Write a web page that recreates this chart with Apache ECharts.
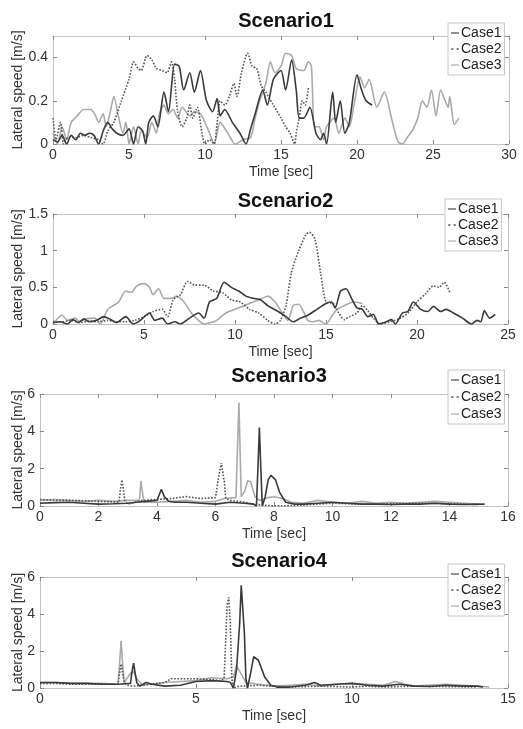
<!DOCTYPE html>
<html>
<head>
<meta charset="utf-8">
<script src="https://cdn.jsdelivr.net/npm/echarts@6/dist/echarts.min.js"></script>
<style>
html,body{margin:0;padding:0;background:#fff;}
#chart{width:523px;height:729px;}
</style>
</head>
<body>
<div id="chart"></div>
<script>
// ---------- data ----------
const titles = ['Scenario1', 'Scenario2', 'Scenario3', 'Scenario4'];
const caseNames = ['Case1', 'Case2', 'Case3'];
const xMax = [30, 25, 16, 15];
const xStep = [5, 5, 2, 5];
const yMax = [0.5, 1.5, 6, 6];
const yStep = [0.2, 0.5, 2, 2];

const s1c1 = [[0,0.02],[0.3,0.01],[0.6,0.04],[0.9,0.0],[1.2,0.04],[1.5,0.02],[1.8,0.05],[2.1,0.04],[2.4,0.05],[2.7,0.04],[3.0,0.0],[3.3,0.06],[3.6,0.1],[3.9,0.07],[4.2,0.05],[4.6,0.04],[5.0,0.07],[5.3,0.0],[5.6,0.08],[5.9,0.06],[6.1,0.0],[6.3,0.1],[6.6,0.13],[6.9,0.08],[7.3,0.24],[7.6,0.15],[8.0,0.37],[8.3,0.36],[8.6,0.25],[9.0,0.33],[9.3,0.24],[9.7,0.34],[10.1,0.2],[10.5,0.15],[10.8,0.21],[11.0,0.13],[11.3,0.16],[11.8,0.1],[12.3,0.05],[12.7,0.0],[13.0,0.07],[13.3,0.14],[13.8,0.25],[14.1,0.18],[14.5,0.3],[15.0,0.34],[15.3,0.25],[15.7,0.39],[16.0,0.25],[16.2,0.12],[16.5,0.12],[16.9,0.17],[17.3,0.05],[17.6,0.02],[17.8,0.05],[18.0,0.0],[18.4,0.24],[18.6,0.1],[18.9,0.2],[19.2,0.05],[19.5,0.1],[20.0,0.32],[20.3,0.25],[20.6,0.2],[21.0,0.18]];
const s1c2 = [[0,0.12],[0.2,0.02],[0.5,0.1],[0.7,0.0],[1.0,0.03],[1.5,0.03],[2.0,0.04],[2.5,0.03],[3.0,0.02],[3.3,0.0],[3.6,0.06],[4.0,0.1],[4.5,0.2],[5.0,0.3],[5.3,0.38],[5.6,0.35],[5.8,0.34],[6.2,0.41],[6.5,0.39],[6.8,0.35],[7.2,0.34],[7.5,0.33],[7.8,0.38],[8.0,0.3],[8.2,0.15],[8.5,0.08],[8.8,0.12],[9.0,0.18],[9.2,0.12],[9.5,0.17],[9.8,0.05],[10.0,0.0],[10.3,0.02],[10.6,0.0],[10.8,0.1],[11.0,0.2],[11.3,0.18],[11.6,0.22],[11.9,0.28],[12.1,0.22],[12.4,0.33],[12.8,0.42],[13.1,0.36],[13.4,0.35],[13.7,0.27],[14.0,0.24],[14.5,0.18],[15.0,0.12],[15.3,0.08],[15.6,0.05],[15.9,0.0],[16.0,0.05],[16.2,0.12],[16.4,0.2],[16.6,0.18],[16.8,0.26]];
const s1c3 = [[0,0.05],[0.3,0.0],[0.6,0.08],[0.9,0.02],[1.2,0.1],[1.6,0.13],[2.0,0.16],[2.5,0.16],[2.8,0.13],[3.0,0.1],[3.3,0.14],[3.5,0.08],[3.8,0.16],[4.0,0.22],[4.3,0.13],[4.6,0.05],[4.8,0.1],[5.0,0.0],[5.3,0.08],[5.6,0.0],[5.8,0.06],[6.2,0.03],[6.5,0.1],[6.8,0.05],[7.0,0.14],[7.3,0.18],[7.6,0.14],[7.9,0.16],[8.2,0.12],[8.5,0.17],[9.0,0.13],[9.3,0.15],[9.7,0.14],[10.0,0.1],[10.3,0.05],[10.6,0.0],[11.0,0.1],[11.5,0.05],[12.0,0.0],[12.5,0.02],[13.0,0.03],[13.3,0.12],[13.6,0.2],[14.0,0.28],[14.3,0.38],[14.6,0.33],[15.0,0.36],[15.3,0.42],[15.7,0.41],[16.0,0.35],[16.5,0.34],[16.8,0.38],[17.0,0.36],[17.2,0.08],[17.5,0.08],[17.8,0.02],[18.0,0.08],[18.5,0.12],[18.8,0.05],[19.2,0.12],[19.5,0.08],[19.8,0.18],[20.2,0.31],[20.5,0.26],[20.8,0.3],[21.3,0.17],[21.8,0.24],[22.3,0.11],[22.7,0.01],[23.0,0.0],[23.3,0.03],[23.7,0.07],[24.0,0.12],[24.3,0.2],[24.6,0.17],[24.9,0.25],[25.2,0.13],[25.5,0.25],[25.8,0.2],[26.0,0.17],[26.1,0.22],[26.4,0.09],[26.7,0.12]];

const s2c1 = [[0,0.02],[0.4,0.03],[0.8,0.0],[1.1,0.06],[1.4,0.02],[1.7,0.07],[2.0,0.03],[2.4,0.05],[2.8,0.1],[3.1,0.07],[3.5,0.02],[4.0,0.1],[4.4,0.0],[4.8,0.05],[5.3,0.15],[5.6,0.05],[6.0,0.08],[6.3,0.0],[6.7,0.03],[7.0,0.0],[7.5,0.08],[8.0,0.15],[8.3,0.08],[8.6,0.3],[9.0,0.35],[9.4,0.57],[9.8,0.5],[10.2,0.45],[10.6,0.38],[11.0,0.35],[11.4,0.33],[11.8,0.25],[12.3,0.18],[12.8,0.1],[13.2,0.03],[13.6,0.08],[14.0,0.12],[14.5,0.2],[15.0,0.28],[15.3,0.3],[15.5,0.22],[15.8,0.45],[16.1,0.48],[16.4,0.35],[16.7,0.22],[17.0,0.2],[17.3,0.1],[17.6,0.13],[17.9,0.0],[18.3,0.03],[18.6,0.06],[18.8,0.0],[19.2,0.15],[19.5,0.17],[19.8,0.3],[20.2,0.2],[20.6,0.17],[20.9,0.24],[21.3,0.17],[21.6,0.2],[22.0,0.15],[22.5,0.08],[23.0,0.0],[23.3,0.05],[23.5,0.03],[23.7,0.18],[24.0,0.08],[24.3,0.13]];
const s2c2 = [[0,0.02],[0.5,0.03],[1.0,0.05],[1.5,0.02],[2.0,0.04],[2.5,0.03],[3.0,0.05],[3.5,0.03],[4.0,0.03],[4.5,0.05],[5.0,0.1],[5.5,0.17],[6.0,0.2],[6.3,0.1],[6.6,0.33],[7.0,0.4],[7.4,0.58],[7.8,0.53],[8.3,0.53],[8.8,0.45],[9.3,0.43],[9.8,0.33],[10.3,0.3],[10.8,0.2],[11.3,0.15],[11.8,0.05],[12.2,0.0],[12.5,0.05],[12.8,0.25],[13.1,0.7],[13.5,1.0],[13.9,1.22],[14.1,1.25],[14.4,1.15],[14.7,0.7],[15.0,0.3],[15.4,0.28],[15.7,0.15],[16.0,0.06],[16.3,0.1],[16.7,0.15],[17.0,0.25],[17.3,0.18],[17.6,0.08],[18.0,0.0],[18.5,0.03],[19.0,0.07],[19.5,0.15],[20.0,0.3],[20.5,0.42],[20.9,0.52],[21.2,0.5],[21.5,0.57],[21.8,0.43]];
const s2c3 = [[0,0.0],[0.5,0.12],[0.8,0.05],[1.2,0.08],[1.5,0.03],[1.8,0.07],[2.3,0.08],[2.6,0.0],[3.0,0.2],[3.3,0.25],[3.6,0.3],[4.0,0.45],[4.3,0.43],[4.6,0.52],[5.0,0.55],[5.3,0.5],[5.5,0.4],[5.8,0.48],[6.1,0.35],[6.5,0.35],[6.8,0.38],[7.2,0.3],[7.6,0.15],[8.0,0.05],[8.3,0.0],[8.7,0.02],[9.0,0.05],[9.5,0.15],[10.0,0.2],[10.5,0.25],[11.0,0.3],[11.5,0.35],[11.8,0.38],[12.2,0.3],[12.6,0.15],[12.9,0.05],[13.2,0.25],[13.5,0.27],[13.8,0.15],[14.0,0.05],[14.3,0.03],[14.6,0.05],[15.0,0.0],[15.3,0.1],[15.6,0.2],[16.0,0.25],[16.5,0.3],[17.0,0.28]];

const s3c1 = [[0,0.15],[0.5,0.18],[1.0,0.2],[1.5,0.15],[2.0,0.1],[2.5,0.12],[3.0,0.15],[3.3,0.2],[3.6,0.25],[4.0,0.3],[4.1,0.7],[4.15,0.9],[4.25,0.5],[4.4,0.25],[4.6,0.2],[5.0,0.2],[5.5,0.15],[6.0,0.1],[6.5,0.2],[7.0,0.15],[7.3,0.1],[7.4,0.0],[7.45,2.0],[7.5,4.2],[7.55,2.0],[7.6,0.0],[7.7,0.5],[7.8,1.4],[7.9,1.65],[8.05,1.4],[8.2,0.7],[8.4,0.2],[8.7,0.1],[9.0,0.1],[9.5,0.15],[10.0,0.2],[10.5,0.15],[11.0,0.1],[11.5,0.1],[12.0,0.08],[12.5,0.1],[13.0,0.1],[13.5,0.15],[14.0,0.1],[14.5,0.08],[15.2,0.1]];
const s3c2 = [[0,0.35],[0.5,0.3],[1.0,0.3],[1.5,0.28],[2.0,0.25],[2.5,0.22],[2.7,0.2],[2.75,0.9],[2.8,1.4],[2.85,0.9],[2.9,0.3],[3.0,0.1],[3.5,0.3],[4.0,0.35],[4.5,0.4],[5.0,0.5],[5.5,0.4],[6.0,0.45],[6.1,1.5],[6.2,2.3],[6.3,1.3],[6.35,0.4],[6.5,0.3],[7.0,0.2],[7.3,0.1],[7.6,0.05],[8.0,0.0],[8.5,0.02],[9.0,0.05],[9.5,0.1],[10.0,0.15],[11.0,0.1],[12.0,0.12],[13.0,0.15],[14.0,0.12],[15.0,0.08]];
const s3c3 = [[0,0.3],[0.5,0.35],[1.0,0.3],[1.5,0.25],[2.0,0.3],[2.5,0.25],[3.0,0.3],[3.4,0.3],[3.45,1.35],[3.55,0.2],[4.0,0.2],[4.5,0.25],[5.0,0.3],[5.5,0.2],[6.0,0.25],[6.3,0.4],[6.7,0.45],[6.8,5.55],[6.88,0.5],[7.0,0.8],[7.1,1.35],[7.2,1.3],[7.35,0.5],[7.5,0.3],[7.8,0.45],[8.0,0.5],[8.3,0.4],[8.6,0.2],[9.0,0.15],[9.5,0.3],[10.0,0.2],[10.5,0.15],[11.0,0.25],[11.5,0.15],[12.0,0.2],[12.5,0.15],[13.0,0.2],[13.5,0.25],[14.0,0.2],[14.5,0.15],[15.0,0.1]];

const s4c1 = [[0,0.3],[0.5,0.3],[1.0,0.25],[1.5,0.25],[2.0,0.2],[2.5,0.2],[2.9,0.25],[2.95,0.9],[3.0,1.35],[3.05,0.8],[3.1,0.3],[3.2,0.1],[3.4,0.3],[3.6,0.2],[4.0,0.1],[4.5,0.15],[5.0,0.35],[5.5,0.4],[6.0,0.35],[6.1,0.3],[6.2,0.0],[6.3,1.0],[6.4,3.5],[6.45,5.55],[6.55,3.0],[6.6,0.5],[6.65,0.0],[6.75,0.8],[6.85,1.7],[7.0,1.5],[7.2,0.6],[7.4,0.15],[7.6,0.05],[8.0,0.05],[8.5,0.15],[8.8,0.3],[9.0,0.15],[9.5,0.2],[10.0,0.25],[10.5,0.15],[11.0,0.1],[11.5,0.2],[12.0,0.1],[12.5,0.08],[13.0,0.15],[13.5,0.1],[14.0,0.1],[14.2,0.05]];
const s4c2 = [[0,0.25],[0.5,0.25],[1.0,0.2],[1.5,0.2],[2.0,0.2],[2.5,0.2],[2.55,0.8],[2.6,1.3],[2.65,0.8],[2.7,0.3],[2.8,0.15],[3.0,0.1],[3.5,0.2],[4.0,0.3],[4.2,0.5],[5.0,0.5],[5.5,0.45],[5.8,0.4],[5.9,0.5],[6.0,4.5],[6.05,4.9],[6.1,3.5],[6.15,0.5],[6.2,0.0],[6.4,0.1],[7.0,0.15],[7.5,0.1],[8.0,0.05],[9.0,0.1],[10.0,0.05],[10.5,0.1],[11.0,0.05],[12.0,0.1],[13.0,0.08],[14.0,0.05]];
const s4c3 = [[0,0.3],[0.5,0.3],[1.0,0.25],[1.5,0.25],[2.0,0.25],[2.5,0.2],[2.55,1.3],[2.6,2.55],[2.65,1.3],[2.7,0.3],[2.9,0.8],[3.0,0.9],[3.1,0.5],[3.3,0.15],[3.5,0.2],[4.0,0.3],[4.5,0.35],[5.0,0.4],[5.5,0.55],[6.0,0.5],[6.2,0.6],[6.3,1.2],[6.4,0.9],[6.6,0.3],[7.0,0.2],[7.5,0.1],[8.0,0.15],[8.5,0.2],[9.0,0.1],[9.5,0.2],[10.0,0.25],[10.5,0.2],[11.0,0.15],[11.4,0.35],[11.7,0.2],[12.0,0.1],[13.0,0.2],[14.0,0.1],[14.4,0.05]];

const panelData = [[s1c1, s1c2, s1c3], [s2c1, s2c2, s2c3], [s3c1, s3c2, s3c3], [s4c1, s4c2, s4c3]];

// ---------- layout / style ----------
const FONT = 'Liberation Sans, Arial, sans-serif';
const grids = [
  {left: 53, top: 36, width: 456, height: 108},
  {left: 53, top: 214, width: 455, height: 110},
  {left: 40, top: 394, width: 468, height: 112},
  {left: 40, top: 577, width: 468, height: 111}
];
const titleY = [6, 186, 361, 546];
const legendTop = [23, 199, 370, 564];
const yNameGap = [28, 28, 15, 15];
const caseStyle = [
  {color: '#3a3a3a', type: 'solid', width: 1.6, z: 4},
  {color: '#555555', type: 'dotted', width: 1.6, z: 3},
  {color: '#aaaaaa', type: 'solid', width: 1.6, z: 2}
];
const legendIcons = [
  'path://M0,0 L10,0 L10,1.4 L0,1.4 Z',
  'path://M1,0 L3,0 L3,1.4 L1,1.4 Z M6,0 L8,0 L8,1.4 L6,1.4 Z',
  'path://M0,0 L10,0 L10,1.4 L0,1.4 Z'
];
const smoothBy = [0.25, 0.25, false, false];

const frameColor = '#c4c4c4';
const tickColor = '#8a8a8a';
const labelColor = '#333';

const option = {
  backgroundColor: '#fff',
  animation: false,
  textStyle: {fontFamily: FONT},
  title: [], grid: [], xAxis: [], yAxis: [], legend: [], series: []
};

for (let p = 0; p < 4; p++) {
  const g = grids[p];
  option.grid.push({left: g.left, top: g.top, width: g.width, height: g.height, containLabel: false});
  option.title.push({
    text: titles[p], left: g.left + g.width / 2, top: titleY[p], textAlign: 'center',
    textStyle: {fontFamily: FONT, fontSize: 20, fontWeight: 'bold', color: '#111'}
  });
  const common = {
    gridIndex: p, type: 'value', splitLine: {show: false},
    axisLine: {show: true, onZero: false, lineStyle: {color: frameColor, width: 1}},
    axisTick: {show: true, inside: true, length: 4, lineStyle: {color: tickColor}}
  };
  option.xAxis.push(Object.assign({}, common, {
    position: 'bottom', min: 0, max: xMax[p], interval: xStep[p],
    name: 'Time [sec]', nameLocation: 'middle', nameGap: 21, nameMoveOverlap: false,
    nameTextStyle: {fontFamily: FONT, fontSize: 14, color: labelColor},
    axisLabel: {fontFamily: FONT, fontSize: 14, color: labelColor, margin: 4, hideOverlap: false}
  }));
  option.xAxis.push(Object.assign({}, common, {
    position: 'top', min: 0, max: xMax[p], interval: xStep[p], axisLabel: {show: false}
  }));
  option.yAxis.push(Object.assign({}, common, {
    position: 'left', min: 0, max: yMax[p], interval: yStep[p],
    name: 'Lateral speed [m/s]', nameLocation: 'middle', nameGap: yNameGap[p], nameRotate: 90,
    nameMoveOverlap: false,
    nameTextStyle: {fontFamily: FONT, fontSize: 14, color: labelColor},
    axisLabel: {fontFamily: FONT, fontSize: 14, color: labelColor, margin: 5, showMaxLabel: p === 0 ? false : true, hideOverlap: false}
  }));
  option.yAxis.push(Object.assign({}, common, {
    position: 'right', min: 0, max: yMax[p], interval: yStep[p], axisLabel: {show: false}
  }));

  option.legend.push({
    data: caseNames.map((n, i) => ({name: n, icon: legendIcons[i]})),
    orient: 'vertical', left: 448 - (p === 1 ? 3 : 0), top: legendTop[p],
    itemWidth: 8, itemHeight: 1.5, itemGap: p === 2 ? 1 : 0, padding: [2, 3, 2, 3],
    borderColor: '#c8c8c8', borderWidth: 1, backgroundColor: '#fff',
    textStyle: {fontFamily: FONT, fontSize: 14, color: '#222', lineHeight: 16, padding: [0, 0, 0, -3]},
    selectedMode: false, z: 10
  });

  for (let c = 0; c < 3; c++) {
    const st = caseStyle[c];
    option.series.push({
      name: caseNames[c], type: 'line', xAxisIndex: p * 2, yAxisIndex: p * 2,
      data: panelData[p][c], showSymbol: false, symbol: 'none', smooth: smoothBy[p],
      lineStyle: {color: st.color, width: st.width, type: st.type},
      itemStyle: {color: st.color}, z: st.z, clip: true
    });
  }
}

const chart = echarts.init(document.getElementById('chart'), null, {renderer: 'canvas'});
chart.setOption(option);
</script>
</body>
</html>
